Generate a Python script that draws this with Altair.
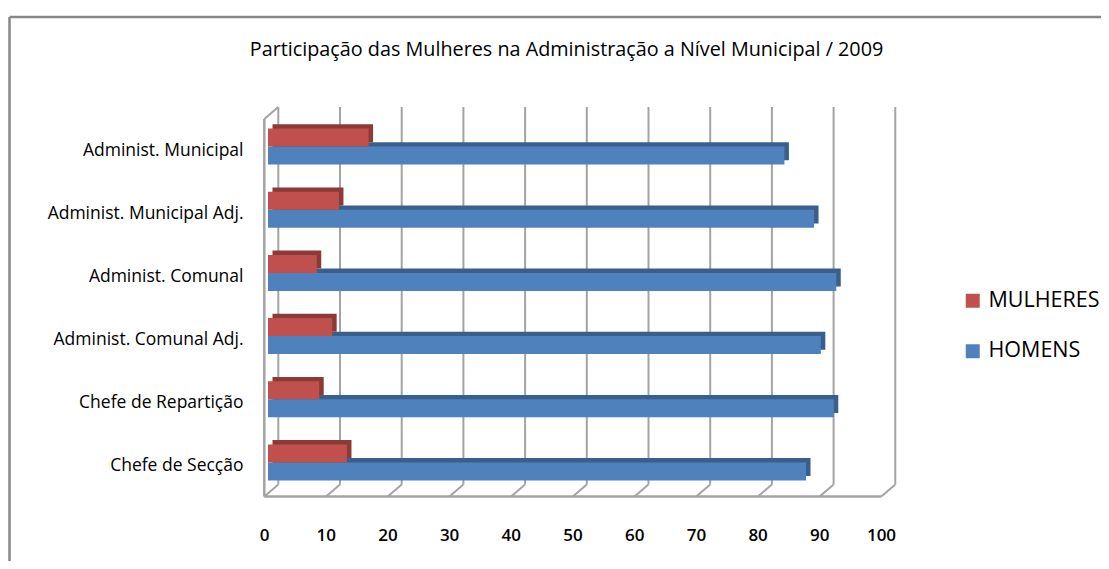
import altair as alt
import pandas as pd

# ---- data ----
categorias = [
    "Administ. Municipal",
    "Administ. Municipal Adj.",
    "Administ. Comunal",
    "Administ. Comunal Adj.",
    "Chefe de Repartição",
    "Chefe de Secção",
]
mulheres = [16.3, 11.5, 7.9, 10.4, 8.3, 12.8]
homens = [83.7, 88.5, 92.1, 89.6, 91.7, 87.2]
series = ["MULHERES", "HOMENS"]
cores = ["#C0504D", "#4F81BD"]
cores_profundidade = ["#8C3A38", "#3A5F8D"]
ticks = [0, 10, 20, 30, 40, 50, 60, 70, 80, 90, 100]
titulo = "Participação das Mulheres na Administração a Nível Municipal / 2009"

rows = []
for c, m, h in zip(categorias, mulheres, homens):
    rows.append({"cat": c, "serie": series[0], "valor": m})
    rows.append({"cat": c, "serie": series[1], "valor": h})
df = pd.DataFrame(rows)
ticks_df = pd.DataFrame({"t": ticks})

FONT = "Open Sans"
W, H = 617, 379
GRID = "#A3A3A3"
DXB, DYB = 10.3, -9.5   # back wall offset
DXF, DYF = -3.7, 2.5    # front edge offset
BDX, BDY = 4.5, -4.3    # bar depth
BAR_H = 18

xscale = alt.Scale(domain=[0, 100], nice=False, zero=True)
yscale = alt.Scale(paddingInner=0, paddingOuter=0)
yaxis = alt.Axis(title=None, domain=False, ticks=False, labelFontSize=17.5,
                 labelFont=FONT, labelColor="#000000", labelPadding=25,
                 labelOffset=4, labelLimit=400)
xaxis = alt.Axis(values=ticks, grid=False, domain=False, ticks=False, tickSize=0,
                 labelPadding=33, labelOffset=-4, labelFontSize=17, labelFontWeight=600,
                 title=None, labelFont=FONT, labelColor="#000000",
                 labelFlush=False, labelBound=False, labelOverlap=False)

X = alt.X("valor:Q", scale=xscale, axis=xaxis)
Y = alt.Y("cat:N", sort=categorias, scale=yscale, axis=yaxis)

base = alt.Chart(df)


def serie_layers(i, shift):
    s = series[i]
    d = base.transform_filter(alt.datum.serie == s).mark_bar(
        height=BAR_H, xOffset=BDX, x2Offset=BDX, yOffset=shift + BDY
    ).encode(x=X, y=Y, color=alt.value(cores_profundidade[i]))
    f = base.transform_filter(alt.datum.serie == s).mark_bar(
        height=BAR_H, yOffset=shift
    ).encode(
        x=X, y=Y,
        color=alt.Color("serie:N", scale=alt.Scale(domain=series, range=cores),
                        legend=alt.Legend(title=None, orient="none", legendX=694, legendY=175,
                                          symbolType="square", symbolSize=196, symbolStrokeWidth=0,
                                          labelFontSize=21.5, labelFont=FONT, labelColor="#000000",
                                          rowPadding=27.5, labelOffset=5)),
    )
    return d, f


d_red, f_red = serie_layers(0, -BAR_H / 2)
d_blue, f_blue = serie_layers(1, BAR_H / 2)

XT = alt.X("t:Q", scale=xscale, axis=xaxis)

grid = alt.Chart(ticks_df).mark_rule(color=GRID, strokeWidth=2, xOffset=DXB).encode(
    x=XT, y=alt.value(-8), y2=alt.value(H + DYB),
)

floor_diag = alt.Chart(ticks_df).mark_rule(color=GRID, strokeWidth=2, xOffset=DXF, x2Offset=DXB).encode(
    x=XT, x2=alt.X2("t"), y=alt.value(H + DYF), y2=alt.value(H + DYB),
)

walls_df = pd.DataFrame({"t": [ticks[0]], "b": [ticks[-1]]})
floor_front = alt.Chart(walls_df).mark_rule(color=GRID, strokeWidth=2.5, xOffset=DXF, x2Offset=DXF).encode(
    x=XT, x2=alt.X2("b"), y=alt.value(H + DYF))
left_front = alt.Chart(walls_df).mark_rule(color=GRID, strokeWidth=2.5, xOffset=DXF).encode(
    x=XT, y=alt.value(4), y2=alt.value(H + DYF))
left_top = alt.Chart(walls_df).mark_rule(color=GRID, strokeWidth=2, xOffset=DXF, x2Offset=DXB).encode(
    x=XT, x2=alt.X2("t"), y=alt.value(4), y2=alt.value(-8))

frame_top = alt.Chart(walls_df).mark_rule(color="#878787", strokeWidth=2.5).encode(
    x=alt.value(-258.5), x2=alt.value(900), y=alt.value(-98))
frame_left = alt.Chart(walls_df).mark_rule(color="#878787", strokeWidth=2.5).encode(
    x=alt.value(-258.5), y=alt.value(-98), y2=alt.value(460))

title_txt = alt.Chart(pd.DataFrame({"txt": [titulo]})).mark_text(
    font=FONT, fontSize=19.8, fontWeight="normal", color="#000000", align="center", baseline="middle").encode(
    text="txt:N", x=alt.value(W / 2 - 10), y=alt.value(-65))

chart = alt.layer(
    frame_top, frame_left, grid, floor_diag, floor_front, left_front, left_top,
    d_blue, d_red, f_blue, f_red, title_txt,
).properties(
    width=W, height=H,
    autosize=alt.AutoSizeParams(type="none"),
    padding={"left": 260, "top": 107, "right": 216, "bottom": 67},
).configure_view(stroke=None)

chart.save("out.html", embed_options={"renderer": "svg", "actions": False})
